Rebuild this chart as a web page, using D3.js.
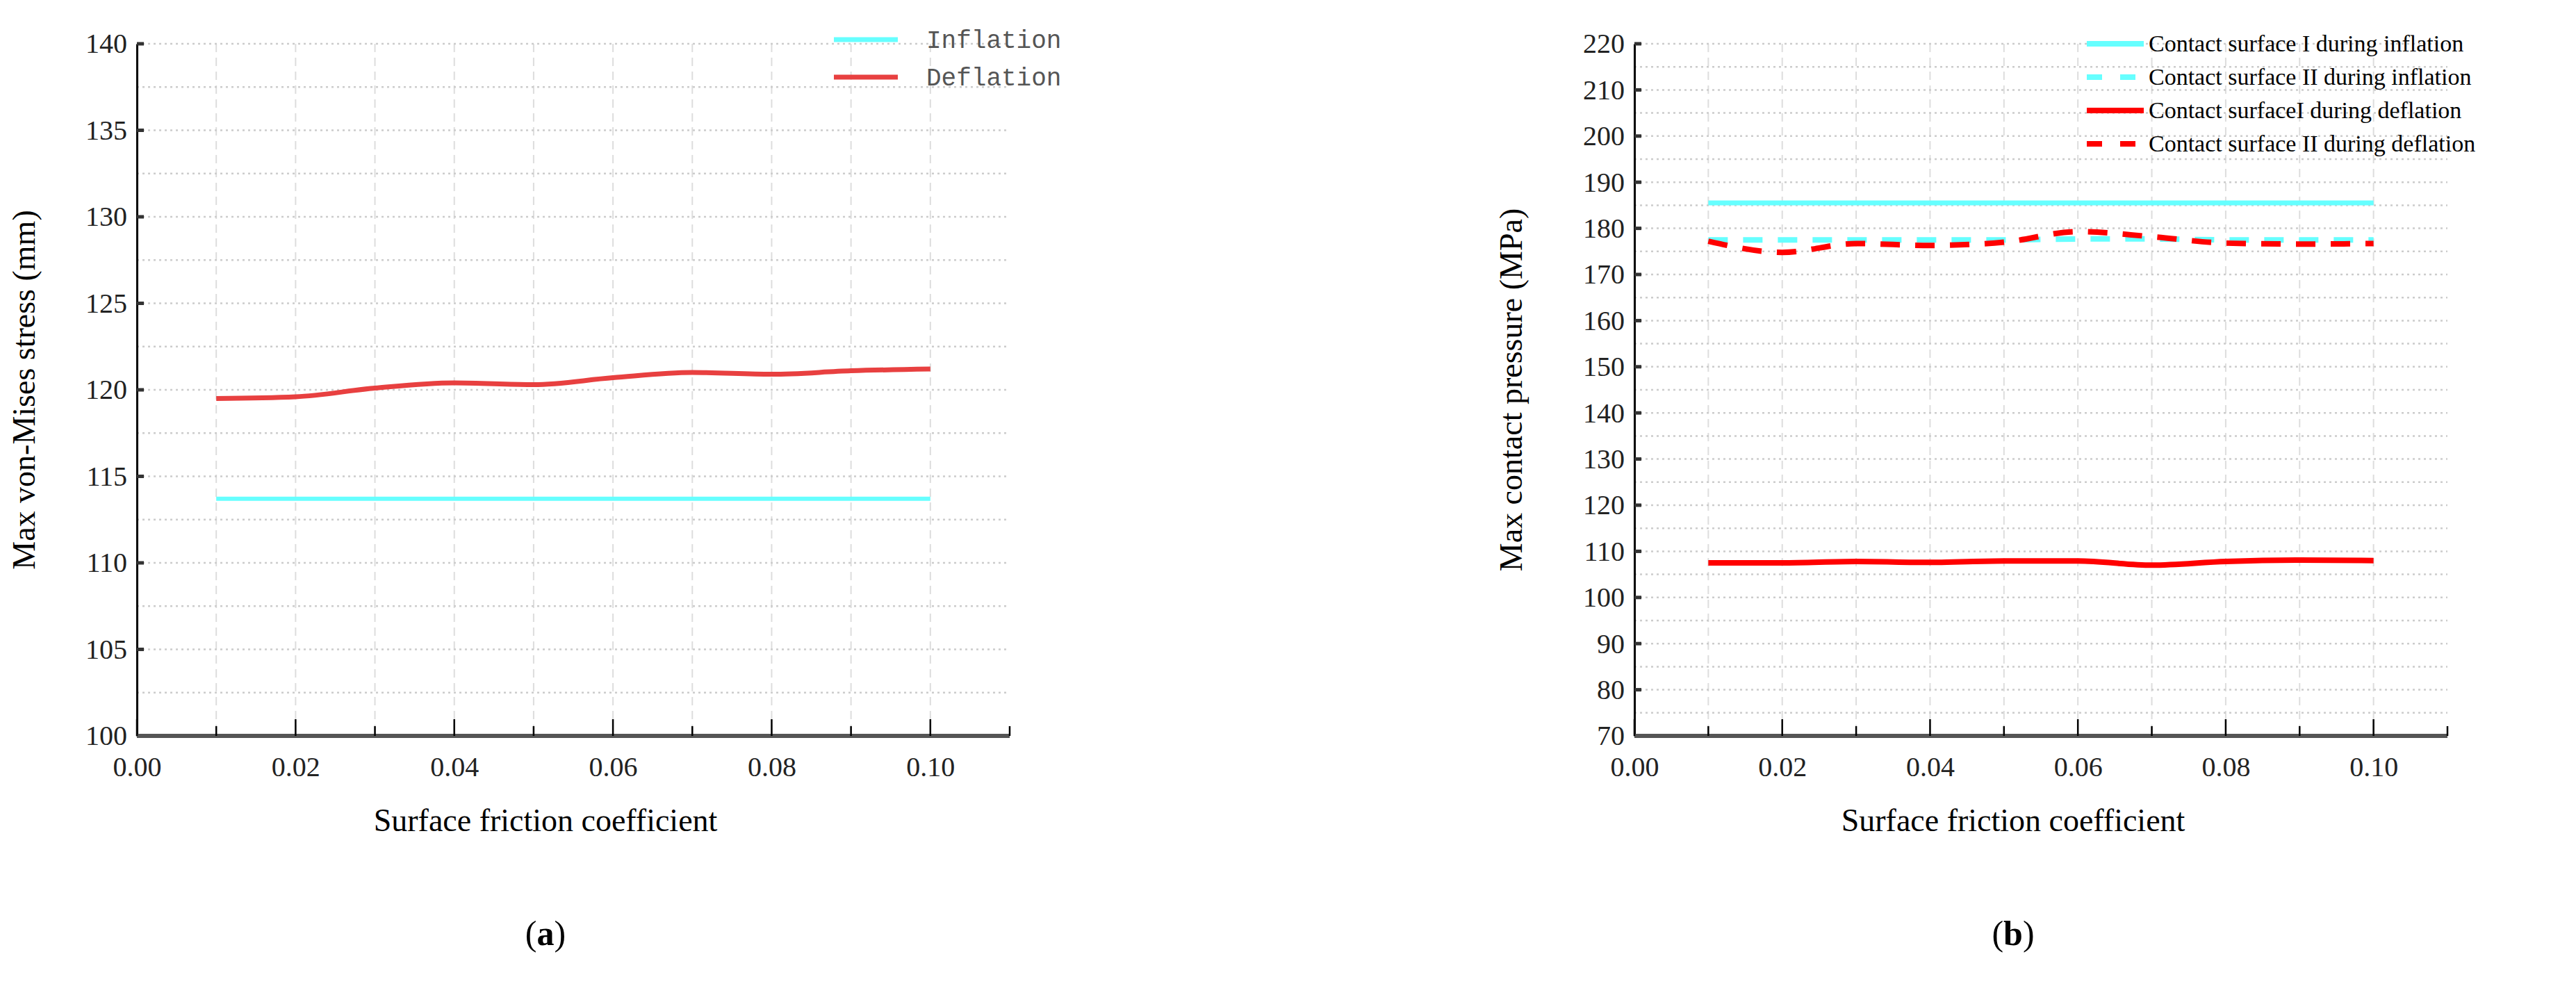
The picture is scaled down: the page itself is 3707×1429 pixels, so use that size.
<!DOCTYPE html>
<html><head><meta charset="utf-8">
<script src="https://cdn.jsdelivr.net/npm/d3@7"></script>
<style>body{margin:0;background:#fff}svg{display:block}text{font-family:"Liberation Serif","Times New Roman",Tinos,"DejaVu Serif",serif !important}text.mono{font-family:"Liberation Mono","DejaVu Sans Mono",monospace !important}</style>
</head><body>
<svg id="c" width="3707" height="1429"></svg>
<script>
const friction = [0.01,0.02,0.03,0.04,0.05,0.06,0.07,0.08,0.09,0.10];
const inflationA = [113.7,113.7,113.7,113.7,113.7,113.7,113.7,113.7,113.7,113.7];
const deflationA = [119.5,119.6,120.1,120.4,120.3,120.7,121.0,120.9,121.1,121.2];
const surfIInfl = [185.5,185.5,185.5,185.5,185.5,185.5,185.5,185.5,185.5,185.5];
const surfIIInfl = [177.5,177.5,177.5,177.5,177.5,177.7,177.7,177.5,177.5,177.5];
const surfIDefl = [107.5,107.5,107.8,107.6,107.9,107.9,107.0,107.8,108.1,108.0];
const surfIIDefl = [177.2,174.8,176.7,176.3,177.0,179.3,178.2,176.8,176.6,176.7];
const xTicks = [0,0.02,0.04,0.06,0.08,0.10];
const yTicksA = [100,105,110,115,120,125,130,135,140];
const yTicksB = d3.range(70,221,10);

const svg = d3.select("#c");
function panel(o){
  const g = svg.append("g");
  const x = d3.scaleLinear().domain([0,0.11]).range([o.x0,o.x1]);
  const y = d3.scaleLinear().domain(o.yd).range([o.y1,o.y0]);
  d3.range(0.01,0.1001,0.01).forEach(v=>g.append("line").attr("x1",x(v)).attr("x2",x(v)).attr("y1",o.y0).attr("y2",o.y1).attr("stroke","#ddd").attr("stroke-width",2).attr("stroke-dasharray","12,8"));
  d3.range(o.yd[0]+o.minor,o.yd[1]+0.001,o.minor).forEach(v=>g.append("line").attr("x1",o.x0).attr("x2",o.x1).attr("y1",y(v)).attr("y2",y(v)).attr("stroke","#ccc").attr("stroke-width",2.5).attr("stroke-dasharray","3,5"));
  const ya = g.append("g").attr("transform",`translate(${o.x0},0)`).call(d3.axisLeft(y).tickValues(o.yt).tickSize(0).tickPadding(14).tickFormat(d3.format("d")));
  ya.attr("font-family",null);
  ya.select(".domain").attr("stroke","#000").attr("stroke-width",3);
  ya.selectAll("text").attr("font-size",40).attr("fill","#222");
  o.yt.forEach(v=>g.append("line").attr("x1",o.x0).attr("x2",o.x0+10).attr("y1",y(v)).attr("y2",y(v)).attr("stroke","#333").attr("stroke-width",5));
  const xa = g.append("g").attr("transform",`translate(0,${o.y1})`).call(d3.axisBottom(x).tickValues(xTicks).tickSize(0).tickPadding(30).tickFormat(d3.format(".2f")));
  xa.attr("font-family",null);
  xa.select(".domain").remove();
  xa.selectAll("text").attr("font-size",40).attr("fill","#222");
  g.append("line").attr("x1",o.x0).attr("x2",o.x1).attr("y1",o.y1).attr("y2",o.y1).attr("stroke","#555").attr("stroke-width",6);
  d3.range(0,0.1101,0.01).forEach((v,i)=>g.append("line").attr("x1",x(v)).attr("x2",x(v)).attr("y1",o.y1).attr("y2",o.y1-(i%2==0?24:14)).attr("stroke","#000").attr("stroke-width",2.5));
  g.append("text").attr("x",(o.x0+o.x1)/2-40).attr("y",1196).attr("text-anchor","middle").attr("font-size",46).text("Surface friction coefficient");
  g.append("text").attr("transform",`translate(${o.ylx},${(o.y0+o.y1)/2}) rotate(-90)`).attr("text-anchor","middle").attr("font-size",46).text(o.ylabel);
  g.append("text").attr("x",(o.x0+o.x1)/2-40).attr("y",1360).attr("text-anchor","middle").attr("font-size",50).html(o.tag);
  const line = d3.line().x((d,i)=>x(friction[i])).y(d=>y(d)).curve(d3.curveMonotoneX);
  o.series.forEach(s=>g.append("path").attr("d",line(s.v)).attr("fill","none").attr("stroke",s.c).attr("stroke-width",s.w).attr("stroke-dasharray",s.dash||null));
  return g;
}
panel({x0:197,x1:1453,y0:63,y1:1059,yd:[100,140],minor:2.5,yt:yTicksA,ylx:50,ylabel:"Max von-Mises stress (mm)",tag:"(<tspan font-weight='bold'>a</tspan>)",
  series:[{v:inflationA,c:"#6ff",w:6},{v:deflationA,c:"#e84040",w:7}]});
panel({x0:2352,x1:3522,y0:63,y1:1059,yd:[70,220],minor:5,yt:yTicksB,ylx:2190,ylabel:"Max contact pressure (MPa)",tag:"(<tspan font-weight='bold'>b</tspan>)",
  series:[{v:surfIInfl,c:"#6ff",w:7},{v:surfIIInfl,c:"#6ff",w:8,dash:"28,22"},{v:surfIDefl,c:"#f00",w:8},{v:surfIIDefl,c:"#f00",w:8,dash:"28,22"}]});
const legA = [{t:"Inflation",c:"#6ff"},{t:"Deflation",c:"#e84040"}];
legA.forEach((d,i)=>{const yy=57+i*54;
  svg.append("line").attr("x1",1200).attr("x2",1292).attr("y1",yy).attr("y2",yy).attr("stroke",d.c).attr("stroke-width",7);
  svg.append("text").attr("class","mono").attr("x",1333).attr("y",yy+12).attr("font-size",36).attr("fill","#555").text(d.t);});
const legB = [{t:"Contact surface I during inflation",c:"#6ff"},{t:"Contact surface II during inflation",c:"#6ff",dash:"22,26"},{t:"Contact surfaceI during deflation",c:"#f00"},{t:"Contact surface II during deflation",c:"#f00",dash:"22,26"}];
legB.forEach((d,i)=>{const yy=63+i*48;
  svg.append("line").attr("x1",3003).attr("x2",3085).attr("y1",yy).attr("y2",yy).attr("stroke",d.c).attr("stroke-width",8).attr("stroke-dasharray",d.dash||null);
  svg.append("text").attr("x",3092).attr("y",yy+11).attr("font-size",34).text(d.t);});
</script>
</body></html>
